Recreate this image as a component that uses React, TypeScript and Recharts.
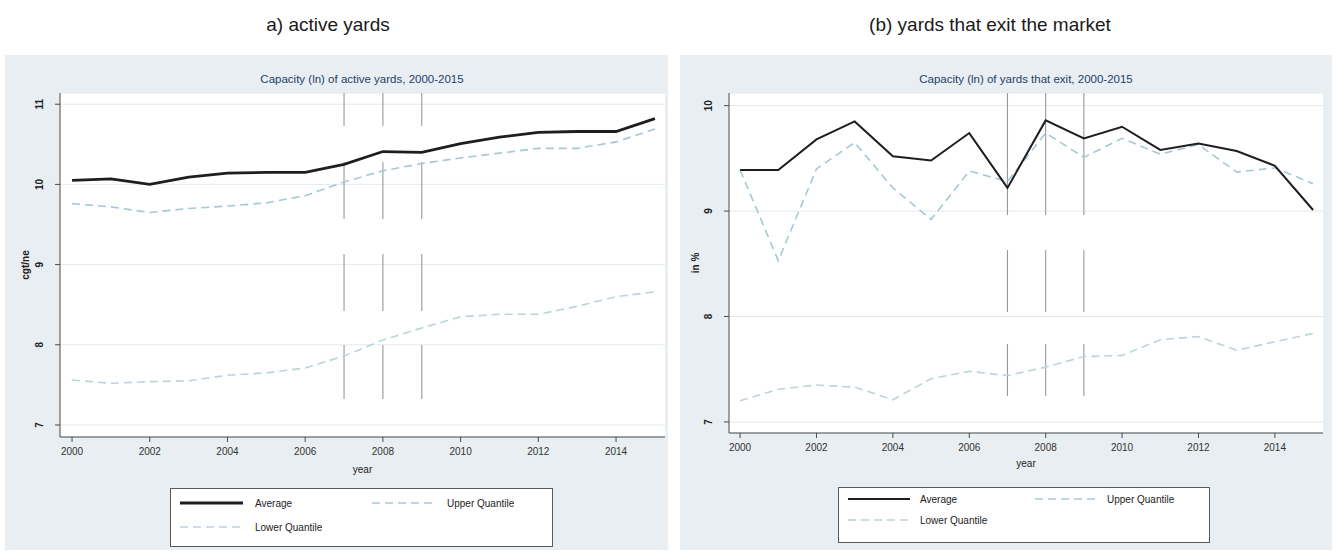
import React from 'react';
import { LineChart, Line, XAxis, YAxis, CartesianGrid, ReferenceLine } from 'recharts';

// ---- data -------------------------------------------------------------
const years = [2000, 2001, 2002, 2003, 2004, 2005, 2006, 2007, 2008, 2009, 2010, 2011, 2012, 2013, 2014, 2015];

const activeAverage = [10.05, 10.07, 10.0, 10.09, 10.14, 10.15, 10.15, 10.25, 10.41, 10.4, 10.51, 10.59, 10.65, 10.66, 10.66, 10.82];
const activeUpper = [9.76, 9.72, 9.65, 9.7, 9.73, 9.77, 9.86, 10.03, 10.17, 10.26, 10.33, 10.39, 10.45, 10.45, 10.53, 10.69];
const activeLower = [7.56, 7.52, 7.54, 7.55, 7.62, 7.65, 7.71, 7.86, 8.06, 8.21, 8.35, 8.38, 8.38, 8.48, 8.6, 8.66];

const exitAverage = [9.39, 9.39, 9.68, 9.85, 9.52, 9.48, 9.74, 9.22, 9.86, 9.69, 9.8, 9.58, 9.64, 9.57, 9.43, 9.01];
const exitUpper = [9.39, 8.53, 9.4, 9.65, 9.22, 8.92, 9.38, 9.28, 9.74, 9.51, 9.69, 9.54, 9.63, 9.37, 9.41, 9.26];
const exitLower = [7.2, 7.31, 7.35, 7.33, 7.21, 7.41, 7.48, 7.44, 7.52, 7.62, 7.63, 7.78, 7.81, 7.68, 7.76, 7.84];

const xTicks = [2000, 2002, 2004, 2006, 2008, 2010, 2012, 2014];
const activeYTicks = [7, 8, 9, 10, 11];
const exitYTicks = [7, 8, 9, 10];
const crisisYears = [2007, 2008, 2009];

const seriesLabels = { average: 'Average', upper: 'Upper Quantile', lower: 'Lower Quantile' };

// ---- styling ----------------------------------------------------------
const FONT = '"Liberation Sans", Arial, Helvetica, sans-serif';
const C = {
  panel: '#e8eef1',
  avg: '#1e1e1e',
  upper: '#a6c8d3',
  lower: '#bcd3da',
  grid: '#e3e9ed',
  axis: '#4a4a4a',
  ref: '#999999',
  subtitle: '#23416a',
  text: '#222',
};

const buildRows = (avg: number[], up: number[], lo: number[]) =>
  years.map((year, i) => ({ year, average: avg[i], upper: up[i], lower: lo[i] }));

const RotatedYTick = (props: any) => {
  const { x, y, payload } = props;
  return (
    <text
      x={x}
      y={y}
      transform={`rotate(-90 ${x} ${y})`}
      textAnchor="middle"
      dominantBaseline="central"
      fontSize={10}
      fontWeight={700}
      fill={C.text}
      fontFamily={FONT}
    >
      {payload.value}
    </text>
  );
};

const yTitle = (text: string, dx: number) => (props: any) => {
  const vb = props.viewBox || {};
  const cx = vb.x + dx;
  const cy = vb.y + vb.height / 2;
  return (
    <text
      x={cx}
      y={cy}
      transform={`rotate(-90 ${cx} ${cy})`}
      textAnchor="middle"
      dominantBaseline="central"
      fontSize={10}
      fontWeight={700}
      fill={C.text}
      fontFamily={FONT}
    >
      {text}
    </text>
  );
};

const xTitle = (text: string, dy: number) => (props: any) => {
  const vb = props.viewBox || {};
  return (
    <text x={vb.x + vb.width / 2} y={vb.y + dy} textAnchor="middle" fontSize={10} fill={C.text} fontFamily={FONT}>
      {text}
    </text>
  );
};

type LegendGeom = {
  left: number;
  top: number;
  width: number;
  height: number;
  row1: number;
  row2: number;
  sample: number;
  textGap: number;
  col2: number;
};

const LegendBox = ({ g, avgWidth }: { g: LegendGeom; avgWidth: number }) => (
  <svg
    width={g.width}
    height={g.height}
    style={{ position: 'absolute', left: g.left, top: g.top, overflow: 'visible' }}
  >
    <rect x={0.5} y={0.5} width={g.width - 1} height={g.height - 1} fill="#fff" stroke="#5a5a5a" strokeWidth={1} />
    <line x1={10} x2={10 + g.sample} y1={g.row1} y2={g.row1} stroke={C.avg} strokeWidth={avgWidth} />
    <text x={10 + g.sample + g.textGap} y={g.row1} dominantBaseline="central" fontSize={10} fill={C.text} fontFamily={FONT}>
      {seriesLabels.average}
    </text>
    <line x1={g.col2} x2={g.col2 + g.sample} y1={g.row1} y2={g.row1} stroke={C.upper} strokeWidth={1.6} strokeDasharray="8 5" />
    <text x={g.col2 + g.sample + g.textGap} y={g.row1} dominantBaseline="central" fontSize={10} fill={C.text} fontFamily={FONT}>
      {seriesLabels.upper}
    </text>
    <line x1={10} x2={10 + g.sample} y1={g.row2} y2={g.row2} stroke={C.lower} strokeWidth={1.6} strokeDasharray="8 5" />
    <text x={10 + g.sample + g.textGap} y={g.row2} dominantBaseline="central" fontSize={10} fill={C.text} fontFamily={FONT}>
      {seriesLabels.lower}
    </text>
  </svg>
);

type PanelProps = {
  left: number;
  top: number;
  width: number;
  height: number;
  margin: { top: number; right: number; bottom: number; left: number };
  rows: any[];
  xDomain: [number, number];
  yDomain: [number, number];
  yTicks: number[];
  yLabel: string;
  yLabelDx: number;
  yearDy: number;
  subtitle: string;
  subtitleX: number;
  avgWidth: number;
  refDash: string;
  legend: LegendGeom;
};

const Panel = (p: PanelProps) => (
  <div
    style={{
      position: 'absolute',
      left: p.left,
      top: p.top,
      width: p.width,
      height: p.height,
      background: C.panel,
    }}
  >
    <div
      style={{
        position: 'absolute',
        left: p.subtitleX - 200,
        width: 400,
        top: 18,
        textAlign: 'center',
        fontSize: 11.5,
        color: C.subtitle,
        fontFamily: FONT,
        whiteSpace: 'nowrap',
      }}
    >
      {p.subtitle}
    </div>
    <LineChart width={p.width} height={p.height} data={p.rows} margin={p.margin}>
      <CartesianGrid horizontal vertical={false} stroke={C.grid} fill="#fff" fillOpacity={1} />
      <XAxis
        dataKey="year"
        type="number"
        domain={p.xDomain}
        allowDataOverflow
        ticks={xTicks}
        interval={0}
        height={30}
        tickSize={5}
        tickMargin={6}
        stroke={C.axis}
        tick={{ fontSize: 10, fill: '#333', fontFamily: FONT }}
        label={{ content: xTitle('year', p.yearDy) }}
      />
      <YAxis
        type="number"
        domain={p.yDomain}
        allowDataOverflow
        ticks={p.yTicks}
        interval={0}
        width={40}
        tickSize={5}
        tickMargin={15}
        stroke={C.axis}
        tick={<RotatedYTick />}
        label={{ content: yTitle(p.yLabel, p.yLabelDx) }}
      />
      {crisisYears.map((yr) => (
        <ReferenceLine
          key={yr}
          segment={[
            { x: yr, y: p.yDomain[1] },
            { x: yr, y: p.yDomain[0] },
          ]}
          stroke={C.ref}
          strokeWidth={1.1}
          strokeDasharray={p.refDash}
        />
      ))}
      <Line
        type="linear"
        dataKey="upper"
        name={seriesLabels.upper}
        stroke={C.upper}
        strokeWidth={1.6}
        strokeDasharray="8 5"
        dot={false}
        isAnimationActive={false}
      />
      <Line
        type="linear"
        dataKey="lower"
        name={seriesLabels.lower}
        stroke={C.lower}
        strokeWidth={1.6}
        strokeDasharray="8 5"
        dot={false}
        isAnimationActive={false}
      />
      <Line
        type="linear"
        dataKey="average"
        name={seriesLabels.average}
        stroke={C.avg}
        strokeWidth={p.avgWidth}
        dot={false}
        isAnimationActive={false}
      />
    </LineChart>
    <LegendBox g={p.legend} avgWidth={p.avgWidth} />
  </div>
);

export default function App() {
  const activeRows = buildRows(activeAverage, activeUpper, activeLower);
  const exitRows = buildRows(exitAverage, exitUpper, exitLower);

  return (
    <div
      style={{
        position: 'absolute',
        left: 0,
        top: 0,
        width: 1338,
        height: 553,
        background: '#fff',
        fontFamily: FONT,
        overflow: 'hidden',
      }}
    >
      <div style={{ position: 'absolute', left: 128, width: 400, top: 14, textAlign: 'center', fontSize: 19, color: '#1a1a1a' }}>
        a) active yards
      </div>
      <div style={{ position: 'absolute', left: 790, width: 400, top: 14, textAlign: 'center', fontSize: 19, color: '#1a1a1a' }}>
        (b) yards that exit the market
      </div>

      <Panel
        left={5}
        top={55}
        width={663}
        height={495}
        margin={{ top: 38, right: 3, bottom: 83, left: 15 }}
        rows={activeRows}
        xDomain={[1999.69, 2015.26]}
        yDomain={[6.85, 11.14]}
        yTicks={activeYTicks}
        yLabel="cgt/ne"
        yLabelDx={5}
        yearDy={36}
        subtitle="Capacity (ln) of active yards, 2000-2015"
        subtitleX={357}
        avgWidth={2.8}
        refDash="33 36 57 35 57 34 54 300"
        legend={{ left: 165, top: 433, width: 383, height: 59, row1: 15, row2: 39, sample: 63, textGap: 12, col2: 202 }}
      />

      <Panel
        left={680}
        top={55}
        width={652}
        height={495}
        margin={{ top: 38, right: 9, bottom: 87, left: 9 }}
        rows={exitRows}
        xDomain={[1999.71, 2015.26]}
        yDomain={[6.895, 10.12]}
        yTicks={exitYTicks}
        yLabel="in %"
        yLabelDx={6}
        yearDy={34}
        subtitle="Capacity (ln) of yards that exit, 2000-2015"
        subtitleX={346}
        avgWidth={2}
        refDash="122 35 62 32 52 300"
        legend={{ left: 158, top: 432, width: 372, height: 56, row1: 12, row2: 33, sample: 62, textGap: 10, col2: 197 }}
      />
    </div>
  );
}
